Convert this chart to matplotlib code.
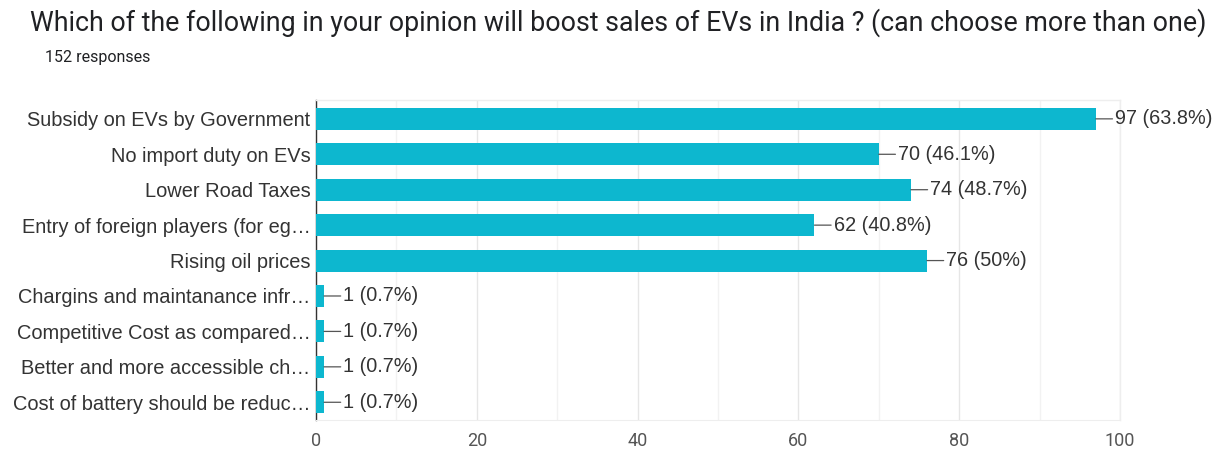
import matplotlib
matplotlib.use("Agg")
import matplotlib.pyplot as plt
from matplotlib.ticker import MultipleLocator

categories = [
    "Subsidy on EVs by Government",
    "No import duty on EVs",
    "Lower Road Taxes",
    "Entry of foreign players (for eg\u2026",
    "Rising oil prices",
    "Chargins and maintanance infr\u2026",
    "Competitive Cost as compared\u2026",
    "Better and more accessible ch\u2026",
    "Cost of battery should be reduc\u2026",
]
counts = [97, 70, 74, 62, 76, 1, 1, 1, 1]
percents = ["63.8%", "46.1%", "48.7%", "40.8%", "50%", "0.7%", "0.7%", "0.7%", "0.7%"]
x_ticks = [0, 20, 40, 60, 80, 100]

title = "Which of the following in your opinion will boost sales of EVs in India ? (can choose more than one)"
subtitle = "152 responses"

bar_color = "#0db7cf"
text_color = "#333333"

fig = plt.figure(figsize=(12.2, 4.5), dpi=100)
ax = fig.add_axes([0.259, 0.0667, 0.659, 0.7113])

y = list(range(len(categories)))
ax.barh(y, counts, height=0.62, color=bar_color, zorder=3)

for yi, c, p in zip(y, counts, percents):
    ax.annotate(f"{c} ({p})", xy=(c, yi), xytext=(14, 0), textcoords="offset points",
                ha="left", va="center", fontsize=14.3, color=text_color,
                family="Liberation Sans",
                arrowprops=dict(arrowstyle="-", color="#555555", lw=0.9,
                                shrinkA=0, shrinkB=0),
                annotation_clip=False, zorder=4)

ax.set_xlim(0, 100)
ax.set_ylim(len(categories) - 0.5, -0.535)
ax.set_yticks(y)
ax.set_yticklabels(categories, fontsize=14.4, color=text_color, family="Liberation Sans")
ax.set_xticks(x_ticks)
ax.set_xticklabels([str(t) for t in x_ticks], fontsize=13, color="#555555", family="Roboto")
ax.xaxis.set_minor_locator(MultipleLocator(10))
ax.tick_params(axis="both", which="both", length=0)
ax.tick_params(axis="y", pad=4)
ax.tick_params(axis="x", pad=9)

ax.grid(axis="x", which="major", color="#e6e6e6", lw=1, zorder=0)
ax.grid(axis="x", which="minor", color="#f2f2f2", lw=1, zorder=0)

for side in ["top", "right"]:
    ax.spines[side].set_color("#eeeeee")
    ax.spines[side].set_linewidth(1)
ax.spines["bottom"].set_color("#eeeeee")
ax.spines["left"].set_color("#333333")
ax.spines["left"].set_linewidth(1)

fig.text(0.025, 0.95, title, fontsize=19.3, color="#202124", family="Roboto",
         ha="left", va="center")
fig.text(0.037, 0.873, subtitle, fontsize=11.5, color="#202124", family="Roboto",
         ha="left", va="center")

fig.savefig("out.png", dpi=100, facecolor="white")
